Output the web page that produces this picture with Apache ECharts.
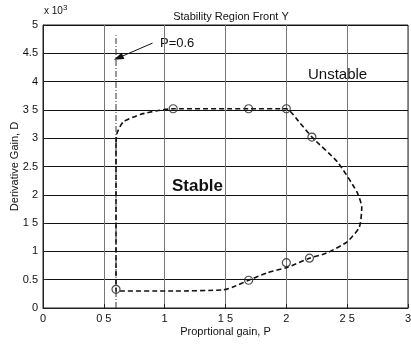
<!DOCTYPE html>
<html>
<head>
<meta charset="utf-8">
<script src="https://cdn.jsdelivr.net/npm/echarts@6/dist/echarts.min.js"></script>
<style>
  html, body { margin: 0; padding: 0; background: #fff; }
  #chart { width: 411px; height: 345px; }
</style>
</head>
<body>
<div id="chart"></div>
<script>
// stability boundary, P vs D (D in raw units, axis shows x10^3)
var boundaryP = [0.6, 0.61, 0.66, 0.8, 0.95, 1.07, 1.69, 2.0, 2.1, 2.21, 2.42, 2.58, 2.62, 2.6, 2.5, 2.33, 2.19, 2.01, 1.84, 1.69, 1.56, 1.48, 1.07, 0.6, 0.6];
var boundaryD = [2930, 3100, 3290, 3420, 3490, 3520, 3520, 3520, 3300, 3020, 2580, 2050, 1780, 1430, 1170, 970, 880, 720, 620, 490, 370, 320, 300, 300, 2930];
// circled points on the boundary
var circleP = [0.6, 1.07, 1.69, 2.0, 2.21, 2.19, 2.0, 1.69];
var circleD = [330, 3520, 3520, 3520, 3020, 880, 800, 490];
// P = 0.6 marker line
var markerP = [0.6, 0.6];
var markerD = [0, 4820];

var xTickLabels = {'0': '0', '0.5': '0 5', '1': '1', '1.5': '1 5', '2': '2', '2.5': '2 5', '3': '3'};
var yTickLabels = {'0': '0', '500': '0.5', '1000': '1', '1500': '1 5', '2000': '2', '2500': '2.5', '3000': '3', '3500': '3 5', '4000': '4', '4500': '4.5', '5000': '5'};

var font = 'Liberation Sans, Arial, sans-serif';

function zip(a, b) {
  var out = [];
  a.forEach(function (v, i) { out.push([v, b[i]]); });
  return out;
}

var chart = echarts.init(document.getElementById('chart'));
var option = {
  animation: false,
  backgroundColor: '#fff',
  title: {
    text: 'Stability Region Front Y',
    left: 226,
    top: 6,
    textAlign: 'center',
    textStyle: { fontFamily: font, fontSize: 11, fontWeight: 'normal', color: '#111' }
  },
  grid: { left: 43, right: 3, top: 25, bottom: 37, outerBoundsMode: 'none', show: true, borderColor: '#222', borderWidth: 1 },
  xAxis: {
    type: 'value',
    min: 0,
    max: 3,
    interval: 0.5,
    name: 'Proprtional gain, P',
    nameLocation: 'middle',
    nameMoveOverlap: false,
    nameGap: 18,
    nameTextStyle: { fontFamily: font, fontSize: 11, color: '#111' },
    axisLine: { show: true, onZero: false, lineStyle: { color: '#222', width: 1 } },
    axisTick: { inside: true, length: 4, lineStyle: { color: '#222' } },
    axisLabel: {
      margin: 5,
      fontFamily: font, fontSize: 11, color: '#111',
      formatter: function (v) { return xTickLabels[String(v)]; }
    },
    splitLine: { show: true, lineStyle: { color: '#777', width: 1 } }
  },
  yAxis: {
    type: 'value',
    min: 0,
    max: 5000,
    interval: 500,
    name: 'Derivative Gain, D',
    nameLocation: 'middle',
    nameMoveOverlap: false,
    nameGap: 23,
    nameTextStyle: { fontFamily: font, fontSize: 11, color: '#111' },
    axisLine: { show: true, lineStyle: { color: '#222', width: 1 } },
    axisTick: { inside: true, length: 4, lineStyle: { color: '#222' } },
    axisLabel: {
      margin: 5,
      fontFamily: font, fontSize: 11, color: '#111',
      formatter: function (v) { return yTickLabels[String(v)]; }
    },
    splitLine: { show: true, lineStyle: { color: '#111', width: 1 } }
  },
  graphic: [
    {
      type: 'text', left: 44, top: 4,
      style: {
        text: 'x 10{s|3}',
        rich: { s: { fontSize: 8, verticalAlign: 'top', padding: [0, 0, 6, 0] } },
        fontFamily: font, fontSize: 10, fill: '#111'
      }
    },
    { type: 'text', left: 160, top: 37, style: { text: 'P=0.6', fontFamily: font, fontSize: 13, fill: '#111' } },
    { type: 'text', left: 308, top: 67, style: { text: 'Unstable', fontFamily: font, fontSize: 15, fill: '#111' } },
    { type: 'text', left: 172, top: 178, style: { text: 'Stable', fontFamily: font, fontSize: 17, fontWeight: 'bold', fill: '#111' } }
  ],
  series: [
    {
      type: 'line',
      data: zip(markerP, markerD),
      symbol: 'none',
      lineStyle: { color: '#333', width: 1, type: [6, 2, 1, 2] },
      silent: true,
      markLine: {
        silent: true,
        symbol: ['none', 'triangle'],
        symbolSize: [7, 10],
        label: { show: false },
        lineStyle: { color: '#111', width: 1, type: 'solid' },
        data: [[{ coord: [0.9, 4680] }, { coord: [0.62, 4420] }]]
      }
    },
    {
      type: 'line',
      data: zip(boundaryP, boundaryD),
      symbol: 'none',
      smooth: 0.2,
      lineStyle: { color: '#111', width: 1.6, type: [5, 3] },
      silent: true
    },
    {
      type: 'scatter',
      data: zip(circleP, circleD),
      symbol: 'circle',
      symbolSize: 8,
      z: 5,
      itemStyle: { color: 'rgba(255,255,255,0)', borderColor: '#222', borderWidth: 1.2 },
      silent: true
    }
  ]
};
chart.setOption(option);
</script>
</body>
</html>
